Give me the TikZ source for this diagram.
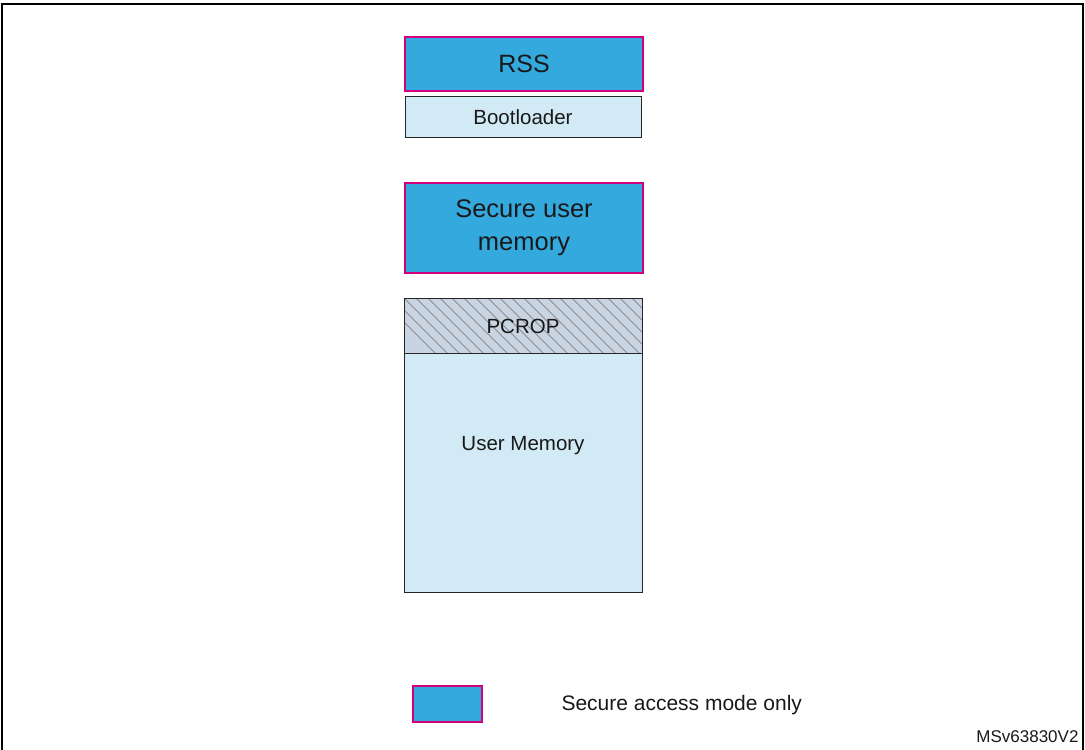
\documentclass[tikz,border=0pt]{standalone}
\usepackage{fontspec}
\setmainfont{Liberation Sans}
\definecolor{sblue}{HTML}{34A9DE}
\definecolor{smag}{HTML}{D2007E}
\definecolor{lblue}{HTML}{D2EAF5}
\definecolor{pgray}{HTML}{C8D4E2}
\begin{document}
\begin{tikzpicture}[x=1pt,y=-1pt,
  sec/.style={draw=smag,line width=2.8pt,fill=sblue},
  usr/.style={draw=black!85,line width=1pt,fill=lblue},
  txt/.style={align=center,text=black!90}]
\useasboundingbox (0,0) rectangle (1085,750);
\draw[line width=1.5pt] (2,760) -- (2,4) -- (1083,4) -- (1083,760);
\draw[sec] (405,37) rectangle (643,91);
\node[txt,font=\fontsize{25}{30}\selectfont] (rss) at (524,64) {RSS};
\draw[usr] (405,96) rectangle (641,137);
\node[txt,font=\fontsize{20.5}{24}\selectfont] (boot) at (523,117) {Bootloader};
\draw[sec] (405,183) rectangle (643,273);
\node[txt,font=\fontsize{25.5}{33}\selectfont] (sum) at (524,228) {Secure user\\memory};
\fill[pgray] (404,298) rectangle (642,353);
\begin{scope}
\clip (404,298) rectangle (642,353);
\foreach \i in {0,12,...,300}
  \draw[black!45,line width=0.8pt] (380+\i,298) -- (435+\i,353);
\end{scope}
\draw[usr] (404,353) rectangle (642,592);
\draw[black!85,line width=1pt] (404,298) rectangle (642,353);
\node[txt,font=\fontsize{20.5}{24}\selectfont] (pcrop) at (523,326) {PCROP};
\node[txt,font=\fontsize{20.5}{24}\selectfont] (um) at (523,446) {User Memory};
\draw[draw=smag,line width=1.6pt,fill=sblue] (413,686) rectangle (482,722);
\node[txt,font=\fontsize{21}{24}\selectfont,anchor=west] (leg) at (558,705) {Secure access mode only};
\node[txt,font=\fontsize{17}{20}\selectfont,anchor=east] (ms) at (1082,737) {MSv63830V2};
\end{tikzpicture}
\end{document}
